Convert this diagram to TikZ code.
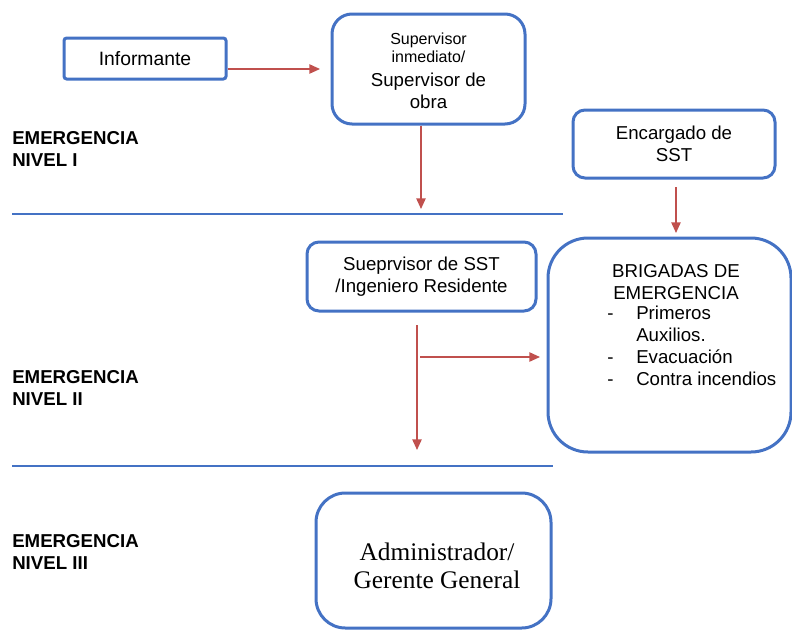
\documentclass[tikz,border=0pt]{standalone}
\usepackage{fontspec}
\setmainfont{Liberation Sans}
\newfontfamily\timesfont{Liberation Serif}
\usetikzlibrary{arrows.meta,calc}
\definecolor{boxblue}{RGB}{68,114,196}
\definecolor{arrred}{RGB}{192,80,77}
\begin{document}
\begin{tikzpicture}[x=0.75pt,y=-0.75pt,
  box/.style={draw=boxblue,line width=2.25pt,inner sep=0pt,align=center,
    font=\fontsize{14}{16.5}\selectfont},
  lvl/.style={anchor=west,align=left,inner sep=0pt,
    font=\fontsize{14}{16.5}\selectfont\bfseries},
  sep/.style={draw=boxblue,line width=1.5pt},
  arr/.style={draw=arrred,line width=1.1pt,-{Triangle[length=8pt,width=7pt]}},
  txt/.style={inner sep=0pt,font=\fontsize{14}{16.5}\selectfont}
]
\useasboundingbox (0,0) rectangle (792,632);

% level labels
\node[lvl] (l1) at (12,149) {EMERGENCIA\\NIVEL I};
\node[lvl] (l2) at (12,387.5) {EMERGENCIA\\NIVEL II};
\node[lvl] (l3) at (12,552) {EMERGENCIA\\NIVEL III};

% separators
\draw[sep] (12,214) -- (563,214);
\draw[sep] (12,466) -- (553,466);

% boxes
\node[box,rounded corners=2pt,minimum width={162*0.75pt},minimum height={41*0.75pt}]
  (inf) at (145,58.5) {\fontsize{14.5}{16.5}\selectfont Informante};
\node[box,rounded corners=15pt,minimum width={193*0.75pt},minimum height={110*0.75pt}]
  (sup) at (428.5,69) {};
\node[txt,align=center] (supt) at (428.5,71) {{\fontsize{12}{12.75}\selectfont Supervisor}\\[-3pt]
  {\fontsize{12}{12.75}\selectfont inmediato/}\\[1.2pt]Supervisor de\\obra};
\node[box,rounded corners=9pt,minimum width={202*0.75pt},minimum height={68*0.75pt}]
  (enc) at (674,144) {Encargado de\\SST};
\node[box,rounded corners=9pt,minimum width={229*0.75pt},minimum height={69*0.75pt}]
  (sst) at (421.5,276.5) {Sueprvisor de SST\\/Ingeniero Residente};
\node[box,rounded corners=30pt,minimum width={243*0.75pt},minimum height={214*0.75pt}]
  (brig) at (669.5,345) {};
\node[box,rounded corners=22pt,minimum width={235*0.75pt},minimum height={135*0.75pt}]
  (adm) at (433.5,560.5) {};

% box texts
\node[txt,align=center] (brigt) at (676,282) {BRIGADAS DE\\EMERGENCIA};
\node[txt,anchor=north west] (brigl) at (607,303.5) {%
  \fontsize{14}{16.5}\selectfont
  \begin{tabular}{@{}p{21.75pt}@{}l@{}}
  - & Primeros\\
    & Auxilios.\\
  - & Evacuación\\
  - & Contra incendios
  \end{tabular}};
\node[inner sep=0pt,align=center,font=\timesfont\fontsize{19}{21}\selectfont]
  (admt) at (437,566) {Administrador/\\Gerente General};

% connectors
\coordinate (a1) at (320,69);
\coordinate (b1) at (421,209);
\coordinate (c0) at (676,187);
\coordinate (c1) at (676,233);
\coordinate (d0) at (417,325);
\coordinate (d1) at (417,450);
\coordinate (e0) at (420,357);
\coordinate (e1) at (540,357);
\draw[arr] (inf.east |- a1) -- (a1);
\draw[arr] (sup.south -| b1) -- (b1);
\draw[arr] (c0) -- (c1);
\draw[arr] (d0) -- (d1);
\draw[arr] (e0) -- (e1);
\end{tikzpicture}
\end{document}
